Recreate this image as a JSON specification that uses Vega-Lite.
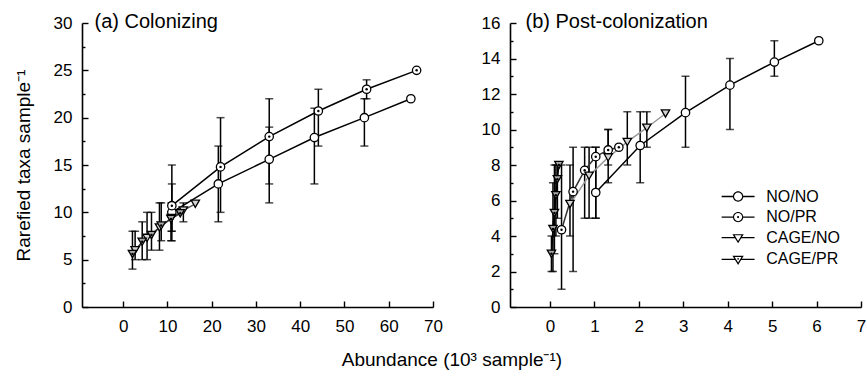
{
  "$schema": "https://vega.github.io/schema/vega-lite/v6.json",
  "padding": {"left": 14, "top": 11, "right": 0, "bottom": 0},
  "spacing": 38,
  "title": {"text": "Abundance (10³ sample⁻¹)", "orient": "bottom", "anchor": "middle", "frame": "bounds", "fontSize": 19, "offset": 17, "dx": 12},
  "datasets": {
    "colonizing": [
      {"series": "NO/NO", "x": 11.0, "y": 10.0, "lo": 7, "hi": 13},
      {"series": "NO/NO", "x": 21.5, "y": 13.0, "lo": 9, "hi": 17},
      {"series": "NO/NO", "x": 33.0, "y": 15.6, "lo": 11, "hi": 19},
      {"series": "NO/NO", "x": 43.2, "y": 17.9, "lo": 13, "hi": 21},
      {"series": "NO/NO", "x": 54.5, "y": 20.0, "lo": 17, "hi": 22},
      {"series": "NO/NO", "x": 65.0, "y": 22.0, "lo": null, "hi": null},
      {"series": "NO/PR", "x": 11.0, "y": 10.7, "lo": 8, "hi": 15},
      {"series": "NO/PR", "x": 22.0, "y": 14.8, "lo": 10, "hi": 20},
      {"series": "NO/PR", "x": 33.0, "y": 18.0, "lo": 13, "hi": 22},
      {"series": "NO/PR", "x": 44.1, "y": 20.7, "lo": 17, "hi": 23},
      {"series": "NO/PR", "x": 55.0, "y": 23.0, "lo": 22, "hi": 24},
      {"series": "NO/PR", "x": 66.3, "y": 25.0, "lo": null, "hi": null},
      {"series": "CAGE/NO", "x": 2.7, "y": 6.0, "lo": 5, "hi": 8},
      {"series": "CAGE/NO", "x": 5.4, "y": 7.3, "lo": 5, "hi": 10},
      {"series": "CAGE/NO", "x": 8.2, "y": 8.4, "lo": 6, "hi": 11},
      {"series": "CAGE/NO", "x": 10.9, "y": 9.4, "lo": 8, "hi": 11},
      {"series": "CAGE/NO", "x": 13.6, "y": 10.2, "lo": 9, "hi": 11},
      {"series": "CAGE/NO", "x": 16.3, "y": 10.9, "lo": null, "hi": null},
      {"series": "CAGE/PR", "x": 2.1, "y": 5.6, "lo": 4, "hi": 8},
      {"series": "CAGE/PR", "x": 4.3, "y": 6.9, "lo": 5, "hi": 9},
      {"series": "CAGE/PR", "x": 6.4, "y": 7.6, "lo": 6, "hi": 10},
      {"series": "CAGE/PR", "x": 8.6, "y": 8.6, "lo": 7, "hi": 11},
      {"series": "CAGE/PR", "x": 10.8, "y": 9.3, "lo": 7, "hi": 10},
      {"series": "CAGE/PR", "x": 12.9, "y": 9.9, "lo": null, "hi": null}
    ],
    "post": [
      {"series": "NO/NO", "x": 1.03, "y": 6.45, "lo": 5, "hi": 9},
      {"series": "NO/NO", "x": 2.03, "y": 9.1, "lo": 7, "hi": 11},
      {"series": "NO/NO", "x": 3.05, "y": 10.95, "lo": 9, "hi": 13},
      {"series": "NO/NO", "x": 4.05, "y": 12.5, "lo": 10, "hi": 14},
      {"series": "NO/NO", "x": 5.05, "y": 13.8, "lo": 13, "hi": 15},
      {"series": "NO/NO", "x": 6.05, "y": 15.0, "lo": null, "hi": null},
      {"series": "NO/PR", "x": 0.26, "y": 4.35, "lo": 1, "hi": 8},
      {"series": "NO/PR", "x": 0.52, "y": 6.5, "lo": 2, "hi": 9},
      {"series": "NO/PR", "x": 0.78, "y": 7.7, "lo": 5, "hi": 9},
      {"series": "NO/PR", "x": 1.03, "y": 8.47, "lo": 5, "hi": 9},
      {"series": "NO/PR", "x": 1.31, "y": 8.85, "lo": 8, "hi": 10},
      {"series": "NO/PR", "x": 1.55, "y": 9.0, "lo": null, "hi": null},
      {"series": "CAGE/NO", "x": 0.45, "y": 5.8, "lo": 4, "hi": 8},
      {"series": "CAGE/NO", "x": 0.88, "y": 7.4, "lo": 5, "hi": 9},
      {"series": "CAGE/NO", "x": 1.31, "y": 8.43, "lo": 7, "hi": 10},
      {"series": "CAGE/NO", "x": 1.74, "y": 9.3, "lo": 8, "hi": 11},
      {"series": "CAGE/NO", "x": 2.18, "y": 10.1, "lo": 9, "hi": 11},
      {"series": "CAGE/NO", "x": 2.6, "y": 10.9, "lo": null, "hi": null},
      {"series": "CAGE/PR", "x": 0.033, "y": 3.0, "lo": 2, "hi": 4},
      {"series": "CAGE/PR", "x": 0.067, "y": 4.4, "lo": 2, "hi": 7},
      {"series": "CAGE/PR", "x": 0.1, "y": 5.3, "lo": 3, "hi": 8},
      {"series": "CAGE/PR", "x": 0.133, "y": 6.3, "lo": 4, "hi": 8},
      {"series": "CAGE/PR", "x": 0.167, "y": 7.2, "lo": 5, "hi": 8},
      {"series": "CAGE/PR", "x": 0.2, "y": 8.0, "lo": null, "hi": null}
    ]
  },
  "hconcat": [
    {
      "width": 351,
      "height": 284,
      "data": {"name": "colonizing"},
      "resolve": {"axis": {"x": "independent", "y": "independent"}},
      "layer": [
        {"mark": {"type": "rule", "color": "black", "strokeWidth": 1.5},
         "encoding": {
           "x": {"field": "x", "type": "quantitative",
                 "scale": {"domain": [-9.3, 70], "nice": false, "zero": false},
                 "axis": {"orient": "bottom", "title": null, "values": [0, 10, 20, 30, 40, 50, 60, 70], "ticks": false, "labelPadding": 11, "labelFlush": false, "labelOverlap": false}},
           "y": {"field": "lo", "type": "quantitative",
                 "scale": {"domain": [0, 30], "nice": false},
                 "axis": {"orient": "left", "title": "Rarefied taxa sample⁻¹", "values": [0, 5, 10, 15, 20, 25, 30], "ticks": false,
                          "labelPadding": 10, "titlePadding": 20, "labelFlush": false, "labelOverlap": false}},
           "y2": {"field": "hi"}}},
        {"mark": {"type": "tick", "orient": "horizontal", "color": "black", "size": 8, "thickness": 1.5},
         "encoding": {
           "x": {"field": "x", "type": "quantitative",
                 "axis": {"orient": "bottom", "title": null, "values": [0, 10, 20, 30, 40, 50, 60, 70], "offset": -6, "tickSize": 6, "labels": false, "domain": false}},
           "y": {"field": "lo", "type": "quantitative",
                 "axis": {"orient": "left", "title": null, "values": [0, 5, 10, 15, 20, 25, 30], "offset": -6, "tickSize": 6, "labels": false, "domain": false}}}},
        {"mark": {"type": "tick", "orient": "horizontal", "color": "black", "size": 8, "thickness": 1.5},
         "encoding": {
           "x": {"field": "x", "type": "quantitative",
                 "axis": {"orient": "top", "title": "(a) Colonizing", "domain": false, "ticks": false, "labels": false,
                          "titleX": 12, "titleY": 4, "titleAlign": "left", "titleBaseline": "alphabetic", "titleFontSize": 20, "titleAngle": 0}},
           "y": {"field": "hi", "type": "quantitative",
                 "axis": {"orient": "left", "title": null, "values": [2.5, 7.5, 12.5, 17.5, 22.5, 27.5], "offset": -3, "tickSize": 3, "labels": false, "domain": false}}}},
        {"mark": {"type": "line", "strokeWidth": 1.5},
         "encoding": {
           "x": {"field": "x", "type": "quantitative", "axis": null},
           "y": {"field": "y", "type": "quantitative", "axis": null},
           "color": {"field": "series", "type": "nominal", "legend": null,
                     "scale": {"domain": ["CAGE/PR", "CAGE/NO", "NO/PR", "NO/NO"], "range": ["#333333", "#555555", "black", "black"]}}}},
        {"mark": {"type": "point", "filled": true, "size": 70, "stroke": "black", "strokeWidth": 1.3, "opacity": 1},
         "encoding": {
           "x": {"field": "x", "type": "quantitative", "axis": null},
           "y": {"field": "y", "type": "quantitative", "axis": null},
           "shape": {"field": "series", "type": "nominal", "legend": null,
                     "scale": {"domain": ["NO/NO", "NO/PR", "CAGE/NO", "CAGE/PR"], "range": ["circle", "circle", "triangle-down", "triangle-down"]}},
           "fill": {"field": "series", "type": "nominal", "legend": null,
                    "scale": {"domain": ["NO/PR", "NO/NO", "CAGE/NO", "CAGE/PR"], "range": ["white", "white", "#d4d4d4", "#a8a8a8"]}}}},
        {"transform": [{"filter": "datum.series === 'NO/PR' || datum.series === 'CAGE/PR'"}],
         "mark": {"type": "circle", "size": 6, "color": "black", "opacity": 1},
         "encoding": {
           "x": {"field": "x", "type": "quantitative", "axis": null},
           "y": {"field": "y", "type": "quantitative", "axis": null}}}
      ]
    },
    {
      "width": 351,
      "height": 284,
      "data": {"name": "post"},
      "resolve": {"axis": {"x": "independent", "y": "independent"}, "scale": {"shape": "independent", "fill": "independent"}},
      "layer": [
        {"mark": {"type": "rule", "color": "black", "strokeWidth": 1.5},
         "encoding": {
           "x": {"field": "x", "type": "quantitative",
                 "scale": {"domain": [-0.9, 7], "nice": false, "zero": false},
                 "axis": {"orient": "bottom", "title": null, "values": [0, 1, 2, 3, 4, 5, 6, 7], "ticks": false, "labelPadding": 11, "labelFlush": false, "labelOverlap": false}},
           "y": {"field": "lo", "type": "quantitative",
                 "scale": {"domain": [0, 16], "nice": false},
                 "axis": {"orient": "left", "title": null, "values": [0, 2, 4, 6, 8, 10, 12, 14, 16], "ticks": false,
                          "labelPadding": 10, "labelFlush": false, "labelOverlap": false}},
           "y2": {"field": "hi"}}},
        {"mark": {"type": "tick", "orient": "horizontal", "color": "black", "size": 8, "thickness": 1.5},
         "encoding": {
           "x": {"field": "x", "type": "quantitative",
                 "axis": {"orient": "bottom", "title": null, "values": [0, 1, 2, 3, 4, 5, 6, 7], "offset": -6, "tickSize": 6, "labels": false, "domain": false}},
           "y": {"field": "lo", "type": "quantitative",
                 "axis": {"orient": "left", "title": null, "values": [0, 2, 4, 6, 8, 10, 12, 14, 16], "offset": -6, "tickSize": 6, "labels": false, "domain": false}}}},
        {"mark": {"type": "tick", "orient": "horizontal", "color": "black", "size": 8, "thickness": 1.5},
         "encoding": {
           "x": {"field": "x", "type": "quantitative",
                 "axis": {"orient": "top", "title": "(b) Post-colonization", "domain": false, "ticks": false, "labels": false,
                          "titleX": 15, "titleY": 4, "titleAlign": "left", "titleBaseline": "alphabetic", "titleFontSize": 20, "titleAngle": 0}},
           "y": {"field": "hi", "type": "quantitative",
                 "axis": {"orient": "left", "title": null, "values": [1, 3, 5, 7, 9, 11, 13, 15], "offset": -3, "tickSize": 3, "labels": false, "domain": false}}}},
        {"mark": {"type": "line", "strokeWidth": 1.5},
         "encoding": {
           "x": {"field": "x", "type": "quantitative", "axis": null},
           "y": {"field": "y", "type": "quantitative", "axis": null},
           "color": {"field": "series", "type": "nominal", "legend": null,
                     "scale": {"domain": ["CAGE/PR", "CAGE/NO", "NO/PR", "NO/NO"], "range": ["black", "#9a9a9a", "#333333", "black"]}}}},
        {"mark": {"type": "point", "filled": true, "size": 70, "stroke": "black", "strokeWidth": 1.3, "opacity": 1},
         "encoding": {
           "x": {"field": "x", "type": "quantitative", "axis": null},
           "y": {"field": "y", "type": "quantitative", "axis": null},
           "shape": {"field": "series", "type": "nominal", "legend": null,
                     "scale": {"domain": ["NO/PR", "NO/NO", "CAGE/PR", "CAGE/NO"], "range": ["circle", "circle", "triangle-down", "triangle-down"]}},
           "fill": {"field": "series", "type": "nominal", "legend": null,
                    "scale": {"domain": ["CAGE/NO", "NO/NO", "NO/PR", "CAGE/PR"], "range": ["#d4d4d4", "white", "white", "#a8a8a8"]}}}},
        {"transform": [{"filter": "datum.series === 'NO/PR' || datum.series === 'CAGE/PR'"}],
         "mark": {"type": "circle", "size": 6, "color": "black", "opacity": 1},
         "encoding": {
           "x": {"field": "x", "type": "quantitative", "axis": null},
           "y": {"field": "y", "type": "quantitative", "axis": null}}},
        {"transform": [{"filter": "false"}],
         "mark": {"type": "point", "filled": true, "size": 354, "opacity": 1},
         "encoding": {
           "x": {"field": "x", "type": "quantitative", "axis": null},
           "y": {"field": "y", "type": "quantitative", "axis": null},
           "shape": {"field": "series", "type": "nominal",
                     "scale": {"domain": ["NO/NO", "NO/PR", "CAGE/NO", "CAGE/PR"],
                               "range": ["M -1.75 -0.07 L -0.5 -0.07 L -0.5 0.07 L -1.75 0.07 Z M 0.5 -0.07 L 1.75 -0.07 L 1.75 0.07 L 0.5 0.07 Z M -0.55 0 A 0.55 0.55 0 1 1 0.55 0 A 0.55 0.55 0 1 1 -0.55 0 Z M -0.43 0 A 0.43 0.43 0 1 0 0.43 0 A 0.43 0.43 0 1 0 -0.43 0 Z",
                                         "M -1.75 -0.07 L -0.5 -0.07 L -0.5 0.07 L -1.75 0.07 Z M 0.5 -0.07 L 1.75 -0.07 L 1.75 0.07 L 0.5 0.07 Z M -0.55 0 A 0.55 0.55 0 1 1 0.55 0 A 0.55 0.55 0 1 1 -0.55 0 Z M -0.43 0 A 0.43 0.43 0 1 0 0.43 0 A 0.43 0.43 0 1 0 -0.43 0 Z M -0.11 0 A 0.11 0.11 0 1 1 0.11 0 A 0.11 0.11 0 1 1 -0.11 0 Z",
                                         "M -1.75 -0.07 L -0.3 -0.07 L -0.3 0.07 L -1.75 0.07 Z M 0.3 -0.07 L 1.75 -0.07 L 1.75 0.07 L 0.3 0.07 Z M -0.6 -0.38 L 0.6 -0.38 L 0 0.6 Z M -0.368 -0.25 L 0 0.351 L 0.368 -0.25 Z",
                                         "M -1.75 -0.07 L -0.3 -0.07 L -0.3 0.07 L -1.75 0.07 Z M 0.3 -0.07 L 1.75 -0.07 L 1.75 0.07 L 0.3 0.07 Z M -0.6 -0.38 L 0.6 -0.38 L 0 0.6 Z M -0.368 -0.25 L 0 0.351 L 0.368 -0.25 Z M -0.09 -0.044 A 0.09 0.09 0 1 1 0.09 -0.044 A 0.09 0.09 0 1 1 -0.09 -0.044 Z"]},
                     "legend": {"title": null, "orient": "none", "legendX": 217.6, "legendY": 163, "padding": 0,
                                "symbolSize": 354, "labelFontSize": 16, "labelColor": "black", "labelOffset": 17.6, "rowPadding": 1.6}},
           "fill": {"field": "series", "type": "nominal",
                    "scale": {"domain": ["NO/NO", "NO/PR", "CAGE/NO", "CAGE/PR"], "range": ["black", "black", "black", "black"]},
                    "legend": {"title": null, "orient": "none", "legendX": 217.6, "legendY": 163, "padding": 0,
                               "symbolSize": 354, "labelFontSize": 16, "labelColor": "black", "labelOffset": 17.6, "rowPadding": 1.6}}}}
      ]
    }
  ],
  "resolve": {"scale": {"x": "independent", "y": "independent", "color": "independent", "shape": "independent", "fill": "independent"}},
  "config": {
    "font": "Liberation Sans",
    "view": {"stroke": null},
    "axis": {"grid": false, "domainColor": "black", "domainWidth": 1.6, "tickColor": "black", "tickWidth": 1.4, "tickSize": 0,
             "labelFontSize": 17, "labelColor": "black", "labelFont": "Liberation Sans",
             "titleFontSize": 19, "titleFontWeight": "normal", "titleColor": "black", "titleFont": "Liberation Sans"},
    "title": {"fontSize": 20, "fontWeight": "normal", "color": "black", "font": "Liberation Sans"},
    "legend": {"labelFont": "Liberation Sans"}
  }
}
